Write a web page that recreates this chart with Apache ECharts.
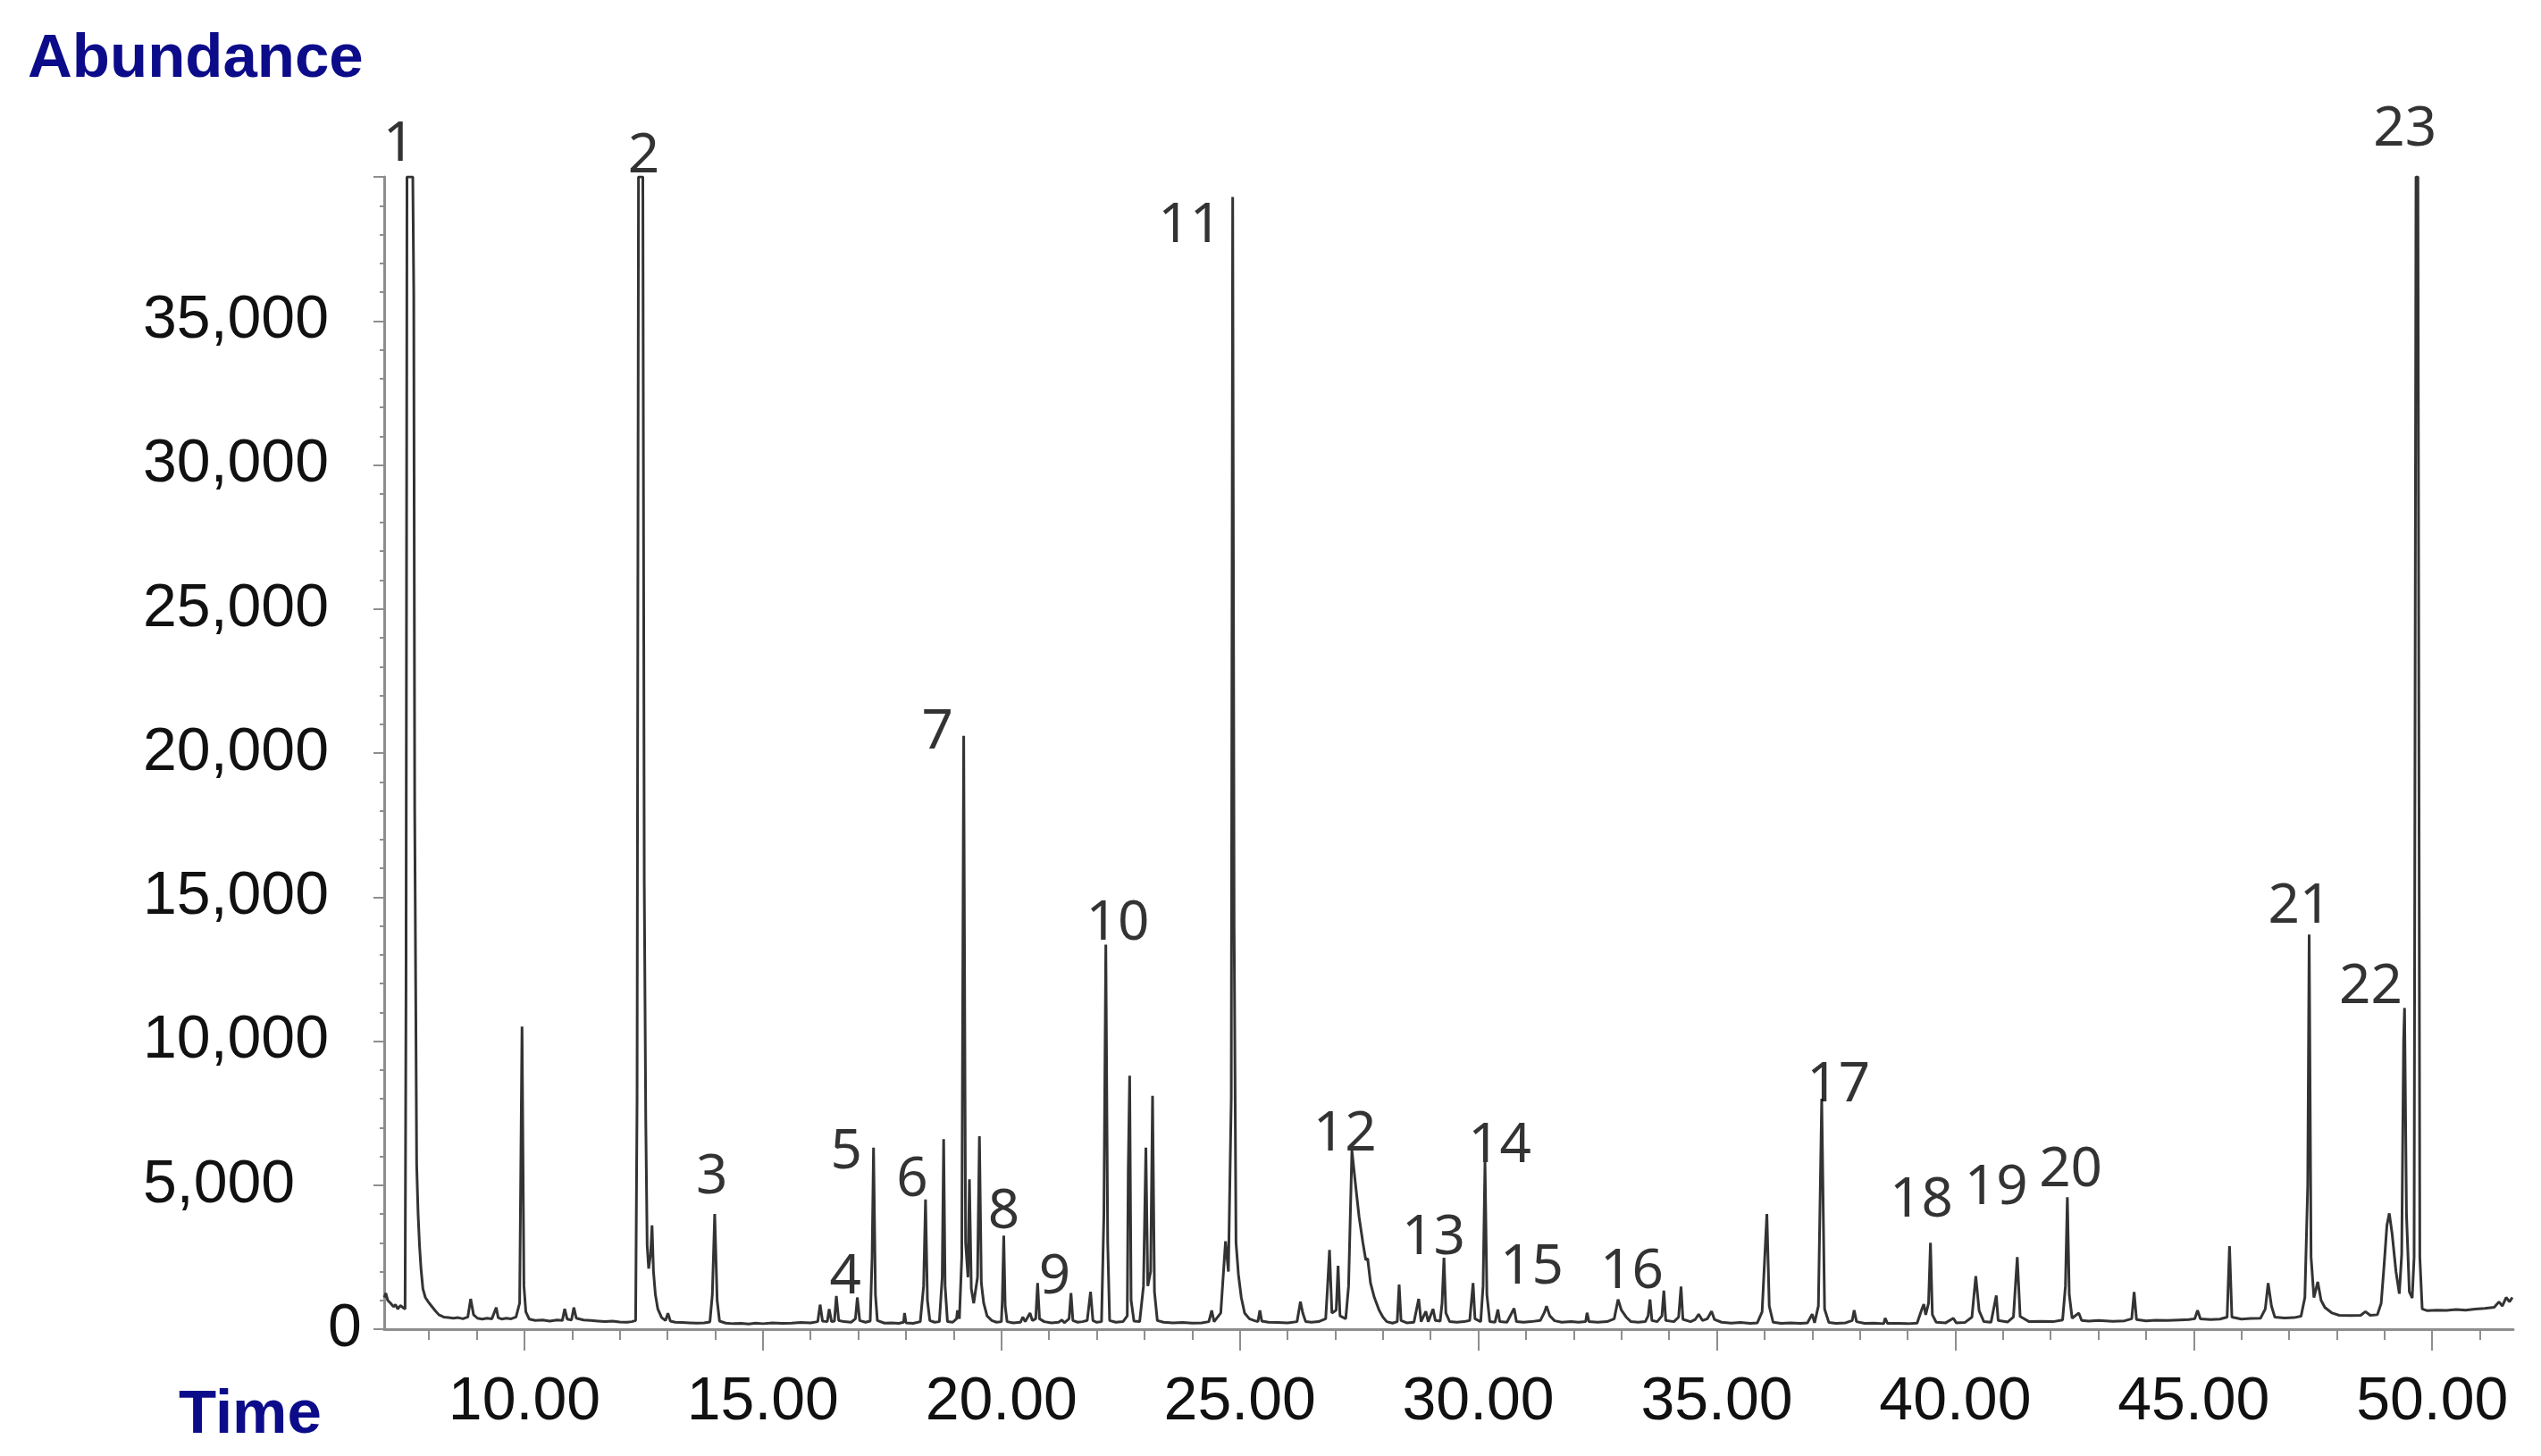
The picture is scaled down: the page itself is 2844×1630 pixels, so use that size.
<!DOCTYPE html>
<html>
<head>
<meta charset="utf-8">
<script src="https://cdn.jsdelivr.net/npm/echarts@6/dist/echarts.min.js"></script>
<style>
html,body{margin:0;padding:0;background:#ffffff;}
#chart{width:2844px;height:1630px;}
</style>
</head>
<body>
<div id="chart"></div>
<script>
// ---- DATA ----
// [retention time (min), abundance]
const chromatogram = [
  [7.06,1100],[7.093,1250],[7.134,1000],[7.195,900],[7.255,780],[7.296,850],[7.346,700],[7.397,820],[7.447,760],[7.498,700],
  [7.518,12000],[7.538,40000],[7.66,40000],[7.68,36000],[7.70,18000],[7.72,12000],[7.741,5700],[7.771,4000],[7.801,2900],[7.832,2100],[7.872,1400],[7.923,1100],[7.983,950],[8.054,800],[8.125,650],[8.206,500],[8.307,420],[8.408,400],[8.509,380],[8.61,400],[8.712,360],[8.813,420],[8.873,1050],[8.934,500],[9.015,380],[9.116,350],[9.217,380],[9.318,360],[9.409,750],[9.45,400],[9.52,350],[9.622,380],[9.723,360],[9.824,420],[9.9,900],
  [9.95,10500],[9.99,1500],[10.03,600],[10.1,350],[10.228,300],[10.38,320],[10.532,280],[10.683,320],[10.795,300],[10.845,700],[10.896,350],[10.987,320],[11.037,750],[11.088,380],[11.24,320],[11.391,300],[11.543,280],[11.695,260],[11.846,280],[11.998,250],[12.15,240],[12.251,260],[12.332,300],
  [12.362,8000],[12.392,40000],[12.483,40000],[12.513,15400],[12.544,7300],[12.574,2900],[12.605,2100],[12.645,2600],[12.676,3600],[12.706,2000],[12.746,1200],[12.797,700],[12.878,400],[12.959,300],[13.009,550],[13.06,280],[13.161,240],[13.313,230],[13.464,220],[13.616,210],[13.768,220],[13.889,250],
  [13.94,1200],[13.99,4000],[14.041,1000],[14.091,280],[14.223,210],[14.375,190],[14.55,200],[14.7,180],[14.85,210],[15.0,190],[15.2,220],[15.4,200],[15.6,210],[15.8,230],[16.0,220],[16.15,260],[16.2,850],[16.25,280],[16.35,260],[16.39,700],[16.44,260],[16.5,280],[16.54,1150],[16.59,300],[16.7,260],[16.85,240],[16.94,360],[16.98,1100],[17.03,300],[17.15,240],[17.25,280],
  [17.29,2500],[17.32,6300],[17.36,1200],[17.4,300],[17.55,210],[17.7,220],[17.85,200],[17.95,240],[17.97,560],[18.0,220],[18.15,200],[18.3,260],[18.37,1500],[18.41,4500],[18.45,1000],[18.5,300],[18.6,240],[18.7,260],[18.76,1800],[18.79,6600],[18.82,1500],[18.87,260],[18.98,240],[19.06,360],[19.08,650],[19.12,360],
  [19.17,2500],[19.21,20600],[19.25,3000],[19.3,1800],[19.33,5200],[19.37,1400],[19.42,900],[19.5,1800],[19.54,6700],[19.58,1600],[19.63,900],[19.7,460],[19.8,300],[19.9,240],[20.0,260],[20.02,1000],[20.05,3250],[20.08,800],[20.12,260],[20.25,220],[20.4,240],[20.45,420],[20.5,260],[20.6,560],[20.65,300],[20.72,360],[20.76,1600],[20.8,360],[20.9,260],[21.05,220],[21.2,240],[21.27,320],[21.32,220],[21.42,360],[21.46,1250],[21.5,300],[21.6,240],[21.7,260],[21.8,300],[21.87,1300],[21.92,300],[22.0,240],[22.1,260],
  [22.15,4000],[22.19,13350],[22.23,3000],[22.27,300],[22.4,240],[22.55,260],[22.64,460],[22.66,5500],[22.69,8800],[22.72,1000],[22.78,280],[22.9,260],[22.98,1500],[23.03,6300],[23.07,1500],[23.13,2000],[23.17,8100],[23.21,1300],[23.27,300],[23.4,240],[23.6,220],[23.8,230],[24.0,210],[24.2,220],[24.35,260],[24.41,650],[24.46,260],[24.6,560],[24.7,3050],[24.76,2000],
  [24.82,8000],[24.85,39300],[24.88,14000],[24.92,3000],[24.97,1900],[25.03,1100],[25.1,560],[25.2,360],[25.3,300],[25.38,260],[25.42,650],[25.46,280],[25.6,240],[25.8,230],[26.0,220],[26.2,260],[26.27,950],[26.32,560],[26.38,260],[26.5,240],[26.65,260],[26.8,360],[26.84,1500],[26.88,2750],[26.93,560],[27.02,660],[27.06,2200],[27.1,460],[27.22,360],
  [27.28,1500],[27.35,6200],[27.42,5100],[27.5,3900],[27.58,3000],[27.64,2400],[27.68,2450],[27.74,1600],[27.82,1100],[27.92,660],[28.0,420],[28.08,260],[28.2,210],[28.3,260],[28.34,1550],[28.38,300],[28.5,220],[28.65,240],[28.75,1050],[28.8,260],[28.9,620],[28.95,260],[29.05,700],[29.1,300],[29.2,280],[29.24,900],[29.28,2480],[29.32,560],[29.4,260],[29.55,240],[29.7,260],[29.82,300],[29.89,1600],[29.93,360],[30.05,260],
  [30.1,1500],[30.14,5800],[30.18,1200],[30.24,260],[30.35,240],[30.41,680],[30.45,260],[30.6,240],[30.75,720],[30.8,260],[30.95,240],[31.1,260],[31.3,300],[31.38,560],[31.43,800],[31.5,460],[31.6,290],[31.75,240],[31.95,260],[32.1,240],[32.25,260],[32.28,570],[32.32,260],[32.5,240],[32.7,260],[32.85,360],[32.93,1030],[33.0,660],[33.1,420],[33.2,260],[33.35,240],[33.5,260],[33.56,460],[33.6,1030],[33.64,300],[33.75,260],[33.85,460],[33.89,1340],[33.93,300],[34.1,260],[34.2,420],[34.25,1480],[34.29,340],[34.45,260],[34.55,340],[34.62,520],[34.7,300],[34.8,360],[34.89,620],[34.95,340],[35.1,240],[35.3,210],[35.5,230],[35.7,200],[35.85,220],
  [35.95,600],[36.05,4000],[36.1,800],[36.18,240],[36.35,200],[36.55,220],[36.75,200],[36.9,220],[37.0,520],[37.05,220],[37.13,800],[37.2,8000],[37.26,700],[37.35,230],[37.5,200],[37.7,220],[37.84,300],[37.88,660],[37.93,260],[38.1,200],[38.3,210],[38.5,190],[38.53,380],[38.58,200],[38.8,200],[39.0,190],[39.2,210],[39.3,700],[39.34,870],[39.38,500],[39.44,900],[39.48,3000],[39.52,500],[39.6,240],[39.8,220],[39.96,380],[40.02,220],[40.2,230],[40.35,420],
  [40.43,1840],[40.5,640],[40.6,260],[40.75,240],[40.86,1170],[40.9,300],[41.1,250],[41.22,420],[41.3,2500],[41.36,440],[41.55,260],[41.8,270],[42.05,260],[42.25,320],[42.31,1500],[42.35,4580],[42.39,1200],[42.45,380],[42.59,560],[42.65,300],[42.8,280],[43.0,300],[43.3,270],[43.55,290],[43.7,360],[43.75,1290],[43.8,330],[44.0,290],[44.2,310],[44.45,300],[44.7,320],[44.9,330],[45.02,360],[45.08,650],[45.14,360],[45.35,330],[45.55,350],[45.7,420],[45.75,2880],[45.8,420],[46.0,350],[46.2,370],[46.4,380],[46.5,700],[46.56,1600],[46.63,800],[46.7,420],[46.9,390],[47.1,400],[47.25,450],[47.33,1100],
  [47.39,5000],[47.42,13700],[47.46,2500],[47.52,1100],[47.6,1640],[47.67,1000],[47.75,750],[47.9,560],[48.05,480],[48.3,470],[48.5,480],[48.6,610],[48.7,480],[48.85,500],[48.93,900],[48.99,2200],[49.05,3600],[49.1,4020],[49.16,3300],[49.24,2000],[49.31,1230],
  [49.36,2600],[49.4,10000],[49.42,11150],[49.46,4000],[49.52,1300],[49.58,1080],[49.62,2500],[49.66,40000],[49.7,40000],[49.74,2500],[49.79,700],[49.9,640],[50.1,660],[50.3,650],[50.5,680],[50.7,660],[50.9,700],[51.1,720],[51.3,760],[51.4,950],[51.47,800],[51.55,1100],[51.62,950],[51.68,1100]
];

const xMinorTickMinutes = [8,9,10,11,12,13,14,15,16,17,18,19,20,21,22,23,24,25,26,27,28,29,30,31,32,33,34,35,36,37,38,39,40,41,42,43,44,45,46,47,48,49,50,51];
const xLabelMinutes = [10,15,20,25,30,35,40,45,50];
const yLabelValues = [0,5000,10000,15000,20000,25000,30000,35000];

const peakIds = ['1','2','3','4','5','6','7','8','9','10','11','12','13','14','15','16','17','18','19','20','21','22','23'];
const peakLabelTime = [7.37,12.50,13.93,16.73,16.75,18.13,18.66,20.05,21.12,22.44,23.95,27.2,29.06,30.45,31.12,33.22,37.55,39.29,40.86,42.42,47.22,48.71,49.43];
const peakLabelAbundance = [41100,40700,5250,1800,6120,5170,20700,4060,1780,14080,38280,6760,3150,6350,2120,1970,8460,4460,4880,5500,14650,11870,41640];

// ---- CHART ----
const chart = echarts.init(document.getElementById('chart'), null, {renderer: 'canvas'});

const axisGray = '#8e8e8e';
const labelFont = 'Liberation Sans, Arial, Helvetica, sans-serif';
const peakFont = 'Noto Sans, Liberation Sans, sans-serif';
const navy = '#0c0c8a';

const labelPoints = peakIds.map((id, i) => ({ value: [peakLabelTime[i], peakLabelAbundance[i]], name: id }));

chart.setOption({
  animation: false,
  backgroundColor: '#ffffff',
  grid: { left: 430, right: 31, top: 198, bottom: 142, containLabel: false },
  xAxis: [
    {
      type: 'value', min: 7.06, max: 51.70,
      axisLine: { show: true, onZero: false, lineStyle: { color: axisGray, width: 3 } },
      axisTick: { show: true, customValues: xMinorTickMinutes, length: 12, lineStyle: { color: axisGray, width: 2 } },
      axisLabel: {
        show: true, customValues: xLabelMinutes, margin: 48,
        formatter: v => Number(v).toFixed(2),
        fontSize: 68, fontFamily: labelFont, color: '#111111'
      },
      splitLine: { show: false }
    },
    {
      type: 'value', min: 7.06, max: 51.70, position: 'bottom', offset: 0,
      axisLine: { show: false, onZero: false },
      axisTick: { show: true, customValues: xLabelMinutes, length: 24, lineStyle: { color: axisGray, width: 2 } },
      axisLabel: { show: false },
      splitLine: { show: false }
    }
  ],
  yAxis: {
    type: 'value', min: 0, max: 40000, interval: 5000,
    axisLine: { show: true, lineStyle: { color: axisGray, width: 3 } },
    axisTick: { show: true, length: 12, lineStyle: { color: axisGray, width: 2 } },
    minorTick: { show: true, splitNumber: 5, length: 5, lineStyle: { color: axisGray, width: 2 } },
    splitLine: { show: false },
    axisLabel: {
      show: true, customValues: yLabelValues, margin: 270, align: 'left',
      fontSize: 68, fontFamily: labelFont, color: '#111111',
      formatter: v => v === 0 ? '{z|0}' : Number(v).toLocaleString('en-US'),
      rich: { z: { padding: [0, 0, 0, 207], fontSize: 68, fontFamily: labelFont, color: '#111111' } }
    }
  },
  series: [
    {
      type: 'line', name: 'TIC', data: chromatogram, xAxisIndex: 0,
      showSymbol: false, symbol: 'none', clip: true, smooth: false,
      lineStyle: { color: '#333333', width: 3 },
      silent: true
    },
    {
      type: 'scatter', name: 'peaks', data: labelPoints, xAxisIndex: 0,
      symbol: 'circle', symbolSize: 2, clip: false, silent: true,
      itemStyle: { color: 'rgba(0,0,0,0)' },
      label: {
        show: true, position: 'inside', formatter: p => p.name,
        fontSize: 62, fontFamily: peakFont, color: '#000000'
      },
      z: 5
    }
  ],
  graphic: [
    { type: 'text', left: 31, top: 32, style: { text: 'Abundance', font: 'bold 69px ' + labelFont, fill: navy } },
    { type: 'text', left: 200, top: 1550, style: { text: 'Time', font: 'bold 69px ' + labelFont, fill: navy } }
  ]
});
</script>
</body>
</html>
